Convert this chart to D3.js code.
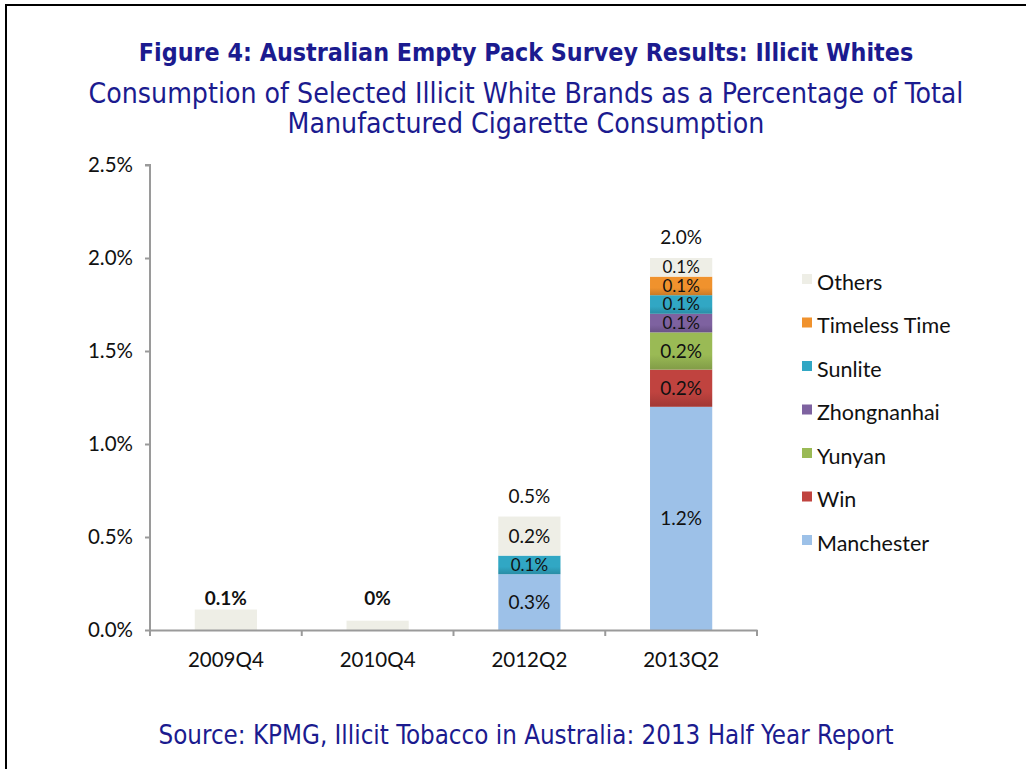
<!DOCTYPE html>
<html>
<head>
<meta charset="utf-8">
<script src="https://cdn.jsdelivr.net/npm/d3@7"></script>
<style>
  html, body { margin: 0; padding: 0; background: #fff; }
  svg { display: block; }
</style>
</head>
<body>
<svg id="chart" width="1026" height="769"></svg>
<script>
// ---- Data ----
const categories = ["2009Q4", "2010Q4", "2012Q2", "2013Q2"];
const seriesNames = ["Manchester", "Win", "Yunyan", "Zhongnanhai", "Sunlite", "Timeless Time", "Others"];
const manchester  = [0,    0,    0.30, 1.20];
const win         = [0,    0,    0,    0.20];
const yunyan      = [0,    0,    0,    0.20];
const zhongnanhai = [0,    0,    0,    0.10];
const sunlite     = [0,    0,    0.10, 0.10];
const timeless    = [0,    0,    0,    0.10];
const others      = [0.11, 0.05, 0.21, 0.10];
const segmentLabels = {
  "2012Q2": ["0.3%", null, null, null, "0.1%", null, "0.2%"],
  "2013Q2": ["1.2%", "0.2%", "0.2%", "0.1%", "0.1%", "0.1%", "0.1%"]
};
const totalLabels = ["0.1%", "0%", "0.5%", "2.0%"];
const yTicks = [0, 0.5, 1.0, 1.5, 2.0, 2.5];
const yTickLabels = ["0.0%", "0.5%", "1.0%", "1.5%", "2.0%", "2.5%"];
const colors = ["#9dc1e8", "#c0433f", "#9aba55", "#7e62a0", "#31a7c4", "#f0922d", "#eeeee6"];

const titleText = "Figure 4: Australian Empty Pack Survey Results: Illicit Whites";
const subtitle1 = "Consumption of Selected Illicit White Brands as a Percentage of Total";
const subtitle2 = "Manufactured Cigarette Consumption";
const sourceText = "Source: KPMG, Illicit Tobacco in Australia: 2013 Half Year Report";

// ---- Build table ----
const seriesValues = [manchester, win, yunyan, zhongnanhai, sunlite, timeless, others];
const table = categories.map((c, i) => {
  const row = { cat: c };
  seriesNames.forEach((s, j) => row[s] = seriesValues[j][i]);
  return row;
});
const stacked = d3.stack().keys(seriesNames)(table);

// ---- Layout ----
const svg = d3.select("#chart");
const margin = { left: 150, right: 269, top: 165, bottom: 139 };
const W = 1026, H = 769;
const x = d3.scaleBand().domain(categories).range([margin.left, W - margin.right]).paddingInner(0.59).paddingOuter(0.295);
const y = d3.scaleLinear().domain([0, 2.5]).range([H - margin.bottom, margin.top]);

const navy = "#1b1b8f";
const bodyFont = "Lato, 'Open Sans', sans-serif";
const titleFont = "'DejaVu Sans Condensed', 'DejaVu Sans', sans-serif";

// Frame
svg.append("line").attr("x1", 6).attr("x2", 6).attr("y1", 5).attr("y2", H).attr("stroke", "#000").attr("stroke-width", 2);
svg.append("line").attr("x1", 5).attr("x2", W).attr("y1", 5).attr("y2", 5).attr("stroke", "#000").attr("stroke-width", 2);

// Titles
svg.append("text").attr("x", 526).attr("y", 61).attr("text-anchor", "middle")
  .attr("font-family", titleFont).attr("font-weight", "bold").attr("font-size", 24.8)
  .attr("fill", navy).text(titleText);
svg.append("text").attr("x", 526).attr("y", 103).attr("text-anchor", "middle")
  .attr("font-family", titleFont).attr("font-size", 28.2)
  .attr("fill", navy).text(subtitle1);
svg.append("text").attr("x", 526).attr("y", 133).attr("text-anchor", "middle")
  .attr("font-family", titleFont).attr("font-size", 28.2)
  .attr("fill", navy).text(subtitle2);
svg.append("text").attr("x", 526).attr("y", 744).attr("text-anchor", "middle")
  .attr("font-family", titleFont).attr("font-size", 25.7)
  .attr("fill", navy).text(sourceText);

// Gradients
const defs = svg.append("defs");
colors.forEach((c, i) => {
  const g = defs.append("linearGradient").attr("id", "grad" + i)
    .attr("x1", 0).attr("y1", 0).attr("x2", 0).attr("y2", 1);
  g.append("stop").attr("offset", "0%").attr("stop-color", c);
  g.append("stop").attr("offset", "60%").attr("stop-color", c);
  g.append("stop").attr("offset", "100%").attr("stop-color", i === 0 || i === 6 ? c : d3.color(c).darker(0.5));
});

// Bars
const layers = svg.append("g").selectAll("g").data(stacked).join("g")
  .attr("fill", (d, i) => `url(#grad${i})`);
layers.selectAll("rect").data(d => d.map(p => ({ p, key: d.key }))).join("rect")
  .filter(d => d.p[1] - d.p[0] > 0)
  .attr("x", d => x(d.p.data.cat))
  .attr("width", x.bandwidth())
  .attr("y", d => y(d.p[1]))
  .attr("height", d => y(d.p[0]) - y(d.p[1]));

// Segment labels
stacked.forEach((layer, si) => {
  layer.forEach(p => {
    const labs = segmentLabels[p.data.cat];
    if (!labs || !labs[si]) return;
    const segH = y(p[0]) - y(p[1]);
    svg.append("text")
      .attr("x", x(p.data.cat) + x.bandwidth() / 2)
      .attr("y", (y(p[0]) + y(p[1])) / 2)
      .attr("dy", "0.35em")
      .attr("text-anchor", "middle")
      .attr("font-family", bodyFont).attr("font-size", segH < 25 ? 17 : 19)
      .attr("fill", "#111").text(labs[si]);
  });
});

// Total labels
const totals = table.map(r => d3.sum(seriesNames, s => r[s]));
const smallTop = d3.max(totals.slice(0, 2));
categories.forEach((c, i) => {
  const bold = i < 2;
  svg.append("text")
    .attr("x", x(c) + x.bandwidth() / 2)
    .attr("y", bold ? y(smallTop) - 5 : y(totals[i]) - 14)
    .attr("text-anchor", "middle")
    .attr("font-family", bodyFont).attr("font-size", 19)
    .attr("font-weight", bold ? "bold" : "normal")
    .attr("fill", "#111").text(totalLabels[i]);
});

// Axes
const axisColor = "#9a9a9a";
const yAxis = svg.append("g").attr("transform", `translate(${margin.left},0)`)
  .call(d3.axisLeft(y).tickValues(yTicks).tickFormat((d, i) => yTickLabels[i]).tickSize(5).tickPadding(12));
const xAxis = svg.append("g").attr("transform", `translate(0,${H - margin.bottom})`)
  .call(d3.axisBottom(x).tickSize(0).tickPadding(22));
// x tick marks at category boundaries
const boundaries = d3.range(categories.length + 1).map(i => margin.left + i * (W - margin.right - margin.left) / categories.length);
xAxis.selectAll(".bound").data(boundaries).join("line").attr("class", "bound")
  .attr("x1", d => d).attr("x2", d => d).attr("y1", 0).attr("y2", 6)
  .attr("stroke", axisColor).attr("stroke-width", 2);
[yAxis, xAxis].forEach(a => {
  a.select(".domain").attr("stroke", axisColor).attr("stroke-width", 2);
  a.selectAll(".tick line").attr("stroke", axisColor).attr("stroke-width", 2);
  a.selectAll(".tick text").attr("font-family", bodyFont).attr("font-size", 20.5).attr("fill", "#111");
});
yAxis.select(".domain").attr("d", `M-5,${y(2.5)}H0V${y(0)}`);

// Legend
const legendItems = seriesNames.slice().reverse();
const legend = svg.append("g").attr("transform", "translate(802,282)");
legendItems.forEach((name, i) => {
  const ci = seriesNames.indexOf(name);
  const g = legend.append("g").attr("transform", `translate(0,${i * 43.5})`);
  g.append("rect").attr("x", 0).attr("y", -8).attr("width", 10).attr("height", 10).attr("fill", colors[ci]);
  g.append("text").attr("x", 15).attr("y", 0).attr("dy", "0.35em")
    .attr("font-family", bodyFont).attr("font-size", 21.5).attr("fill", "#111").text(name);
});
</script>
</body>
</html>
